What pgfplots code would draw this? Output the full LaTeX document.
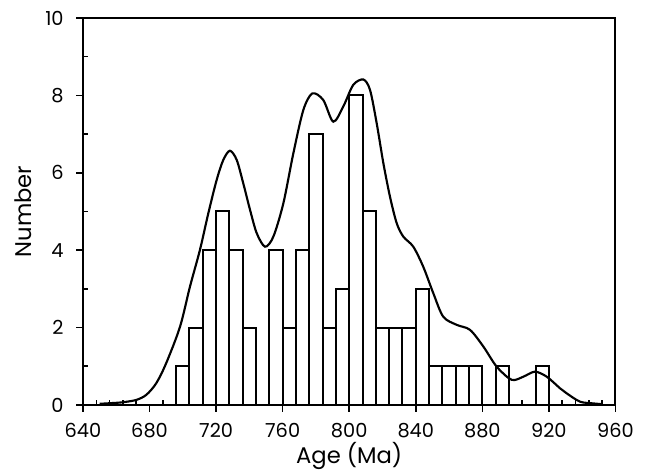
\documentclass[border=0pt]{standalone}
\usepackage{fontspec}
\setmainfont{Poppins}
\usepackage{pgfplots}
\pgfplotsset{compat=1.18}
\usetikzlibrary{calc}

\begin{document}
\begin{tikzpicture}
\begin{axis}[
    scale only axis,
    width=399.4pt, height=290.25pt,
    xmin=640, xmax=960, ymin=0, ymax=10,
    xtick={640,680,...,960}, ytick={0,2,...,10},
    tick pos=left, tick align=outside,
    major tick length=5pt,
    every tick/.style={black, line width=1.2pt},
    axis line style={line width=1.5pt},
    extra x ticks={648,656,664,672,688,696,704,712,728,736,744,752,768,776,784,792,808,816,824,832,848,856,864,872,888,896,904,912,928,936,944,952},
    extra y ticks={1,3,5,7,9},
    extra x tick labels={}, extra y tick labels={},
    extra tick style={tick align=inside, major tick length=3.5pt},
    /pgf/number format/assume math mode=true,
    /pgf/number format/1000 sep={},
    tick label style={font=\fontsize{14.5}{16}\selectfont},
    xticklabel style={yshift=-5.5pt},
    yticklabel style={xshift=-6pt},
    label style={font=\fontsize{17}{20}\selectfont},
    xlabel={Age (Ma)}, ylabel={Number},
    xlabel style={yshift=8.5pt},
    ylabel style={yshift=-1.5pt},
]
% histogram, 8 Ma bins
\addplot[ybar interval, fill=white, draw=black, line width=1.5pt]
  coordinates {(696,1) (704,2) (712,4) (720,5) (728,4) (736,2) (744,0) (752,4)
               (760,2) (768,4) (776,7) (784,2) (792,3) (800,8) (808,5) (816,2)
               (824,2) (832,2) (840,3) (848,1) (856,1) (864,1) (872,1) (880,0)
               (888,1) (896,0) (904,0) (912,1) (920,0)};
% probability density curve
\addplot[black, line width=1.6pt, smooth]
  coordinates {(650,0.03) (658,0.05) (664,0.07) (672,0.13) (678,0.26) (684,0.56)
               (690,1.08) (698.3,2.02) (704.3,3.06) (710.3,4.01) (715.3,4.95)
               (720.3,5.81) (724.3,6.33) (728.3,6.57) (732.4,6.33) (736.3,5.73)
               (740.4,5.04) (744.4,4.44) (749.4,4.09) (754.4,4.35) (760.4,5.21)
               (766.4,6.50) (772.4,7.62) (777.8,8.05)
               (784.4,7.88) (790.4,7.32) (796.4,7.71) (802.4,8.27) (808.5,8.41)
               (812.5,8.14) (816.5,7.28) (820.5,6.25) (824.5,5.38) (828.5,4.70)
               (832.5,4.35) (838.5,4.09) (844.5,3.57) (850.5,2.89) (856.5,2.28)
               (864.6,2.07) (872.6,1.94) (880.6,1.51) (888.6,0.99) (897.6,0.65)
               (904.6,0.73) (911.6,0.86) (918.7,0.73) (926.7,0.43) (930.7,0.30)
               (938.7,0.085) (946.7,0.04) (952,0.02)};
\end{axis}
\pgfresetboundingbox
\path ($(current axis.south west)+(-62.25pt,-51.75pt)$) rectangle ($(current axis.north east)+(27.4pt,13.5pt)$);
\end{tikzpicture}
\end{document}
